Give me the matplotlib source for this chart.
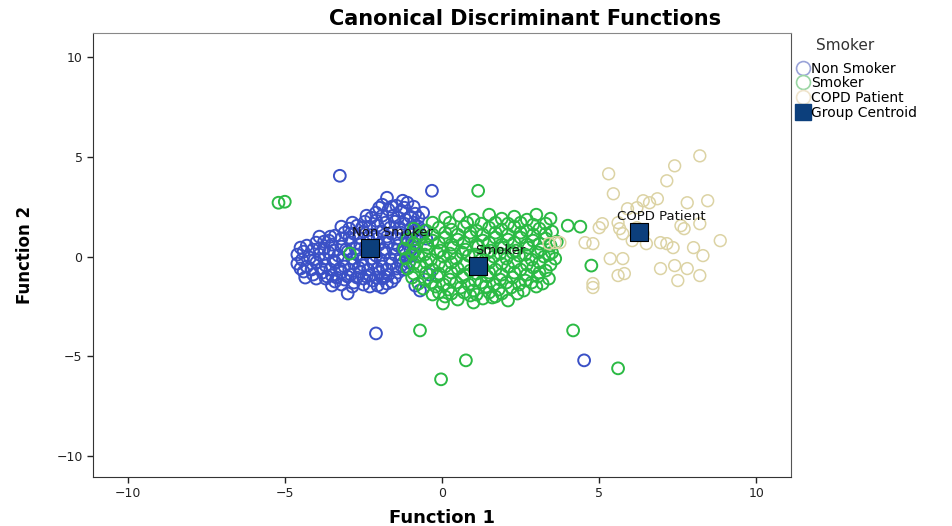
import numpy as np
import matplotlib
matplotlib.use("Agg")
import matplotlib.pyplot as plt
from matplotlib.lines import Line2D

# discriminant scores (Function 1, Function 2)
non_smoker = [
    (-1.75, 2.95), (-1.25, 2.8), (-1.1, 2.7), (-1.9, 2.6), (-1.45, 2.55),
    (-2.0, 2.45), (-1.6, 2.5), (-1.2, 2.45), (-0.9, 2.5),
    (-2.1, 2.2), (-2.4, 2.05), (-1.7, 2.35), (-1.3, 2.3), (-0.85, 2.15), (-0.6, 2.2),
    (-1.0, 2.0), (-1.55, 2.05), (-0.75, 1.95),
    (-2.25, 1.95), (-1.9, 2.05), (-1.4, 1.95), (-1.15, 1.85),
    (-2.7, 1.55), (-2.95, 1.4), (-2.45, 1.75), (-2.1, 1.8), (-1.8, 1.7), (-1.5, 1.75),
    (-1.2, 1.65), (-0.9, 1.7), (-0.75, 1.5), (-2.3, 1.5), (-1.65, 1.45), (-1.0, 1.4),
    (-2.85, 1.7), (-2.55, 1.45), (-2.05, 1.55), (-1.35, 1.45), (-0.85, 1.3), (-3.2, 1.5),
    (-3.6, 0.8), (-3.4, 1.05), (-3.1, 1.2), (-3.75, 0.75), (-2.8, 1.15), (-2.5, 1.25),
    (-2.2, 1.1), (-1.9, 1.25), (-1.6, 1.15), (-1.3, 1.2), (-1.0, 1.1), (-0.8, 1.0),
    (-3.2, 0.9), (-2.65, 0.95),
    (-3.9, 1.0), (-3.55, 1.0), (-2.95, 0.95), (-2.35, 0.95), (-2.05, 0.9), (-1.75, 1.0),
    (-1.45, 0.9), (-1.15, 0.9), (-0.95, 0.8),
    (-4.3, 0.55), (-4.0, 0.7), (-3.9, 0.4), (-3.5, 0.6), (-3.2, 0.5), (-2.9, 0.7),
    (-2.6, 0.6), (-2.3, 0.75), (-2.0, 0.6), (-1.7, 0.7), (-1.4, 0.55), (-1.1, 0.65), (-0.9, 0.5),
    (-4.5, 0.45), (-4.1, 0.35), (-3.75, 0.4), (-3.45, 0.3), (-3.05, 0.35), (-2.75, 0.4),
    (-2.45, 0.35), (-2.15, 0.4), (-1.85, 0.35), (-1.55, 0.4), (-1.25, 0.35), (-1.0, 0.3),
    (-4.6, 0.1), (-4.4, 0.25), (-4.2, -0.05), (-3.9, 0.1), (-3.6, 0.2), (-3.3, 0.05),
    (-3.0, 0.25), (-2.7, 0.1), (-2.4, 0.2), (-2.1, 0.05), (-1.8, 0.2), (-1.5, 0.1),
    (-1.2, 0.25), (-0.95, 0.05),
    (-4.45, -0.15), (-4.05, -0.15), (-3.75, -0.1), (-3.45, -0.2), (-3.15, -0.15),
    (-2.85, -0.1), (-2.55, -0.2), (-2.25, -0.1), (-1.95, -0.15), (-1.65, -0.1),
    (-1.35, -0.2), (-1.1, -0.05),
    (-4.6, -0.35), (-4.3, -0.5), (-4.0, -0.3), (-3.7, -0.45), (-3.4, -0.3), (-3.1, -0.5),
    (-2.8, -0.35), (-2.5, -0.45), (-2.2, -0.3), (-1.9, -0.5), (-1.6, -0.35), (-1.3, -0.45),
    (-1.05, -0.3),
    (-4.5, -0.6), (-4.15, -0.65), (-3.85, -0.6), (-3.55, -0.65), (-3.25, -0.6),
    (-2.95, -0.65), (-2.65, -0.55), (-2.35, -0.65), (-2.05, -0.6), (-1.75, -0.65),
    (-1.45, -0.6), (-1.15, -0.5),
    (-4.4, -0.75), (-4.1, -0.9), (-3.8, -0.8), (-3.5, -0.95), (-3.2, -0.8), (-2.9, -0.9),
    (-2.6, -0.75), (-2.3, -0.95), (-2.0, -0.8), (-1.7, -0.9), (-1.4, -0.8), (-1.2, -0.65),
    (-4.0, -1.1), (-3.65, -1.0), (-3.35, -1.05), (-3.0, -1.0), (-2.7, -1.05), (-2.4, -1.0),
    (-2.1, -1.05), (-1.8, -1.0), (-1.5, -1.05),
    (-3.7, -1.1), (-3.4, -1.25), (-3.1, -1.15), (-2.8, -1.3), (-2.5, -1.1), (-2.2, -1.2),
    (-1.9, -1.1), (-1.6, -1.25), (-2.05, -1.45),
    (-3.5, -1.45), (-3.2, -1.4), (-2.85, -1.5), (-2.5, -1.4), (-2.3, -1.5), (-1.75, -1.35),
    (-3.0, -1.85), (-1.9, -1.55), (-4.35, -1.05), (-0.85, -1.45), (-0.7, -1.7),
    (-0.5, 0.9), (-0.4, -0.9), (-0.6, 1.3),
    (-3.25, 4.05), (-0.32, 3.3), (-2.1, -3.85), (4.52, -5.2),
]

smoker = [
    (0.1, 1.95), (0.55, 2.05), (1.0, 1.85), (1.5, 2.1), (1.9, 1.9), (2.3, 2.0), (2.7, 1.85),
    (3.0, 2.1), (3.45, 1.9), (4.0, 1.55), (4.4, 1.5), (-0.3, 1.7),
    (0.25, 1.7), (0.8, 1.7), (1.25, 1.65), (1.7, 1.7), (2.1, 1.65), (2.5, 1.7), (2.9, 1.6),
    (3.3, 1.65),
    (-0.9, 1.4), (-0.5, 1.3), (-0.1, 1.45), (0.3, 1.35), (0.7, 1.5), (1.1, 1.3), (1.5, 1.45),
    (1.9, 1.35), (2.3, 1.5), (2.7, 1.3), (3.1, 1.4), (3.5, 1.25),
    (-0.7, 1.15), (-0.3, 1.1), (0.1, 1.2), (0.5, 1.1), (0.9, 1.2), (1.3, 1.1), (1.7, 1.2),
    (2.1, 1.1), (2.5, 1.2), (2.9, 1.1), (3.3, 1.15),
    (-1.1, 0.85), (-0.7, 0.95), (-0.3, 0.8), (0.1, 0.95), (0.5, 0.85), (0.9, 1.0), (1.3, 0.8),
    (1.7, 0.95), (2.1, 0.85), (2.5, 0.95), (2.9, 0.8), (3.3, 0.9), (3.65, 0.75),
    (-0.9, 0.65), (-0.5, 0.6), (-0.1, 0.7), (0.3, 0.6), (0.7, 0.7), (1.1, 0.6), (1.5, 0.7),
    (1.9, 0.6), (2.3, 0.7), (2.7, 0.6), (3.1, 0.65), (3.45, 0.55),
    (-1.2, 0.4), (-0.85, 0.3), (-0.45, 0.45), (-0.05, 0.3), (0.35, 0.45), (0.75, 0.35),
    (1.15, 0.5), (1.55, 0.3), (1.95, 0.45), (2.35, 0.3), (2.75, 0.45), (3.15, 0.35), (3.5, 0.2),
    (-0.95, 0.15), (-0.55, 0.1), (-0.15, 0.2), (0.25, 0.15), (0.65, 0.2), (1.05, 0.1),
    (1.45, 0.2), (1.85, 0.15), (2.25, 0.2), (2.65, 0.1), (3.05, 0.2), (3.4, 0.1),
    (-1.15, -0.1), (-0.75, 0.0), (-0.35, -0.15), (0.05, 0.0), (0.45, -0.1), (0.85, 0.05),
    (1.25, -0.15), (1.65, 0.0), (2.05, -0.1), (2.45, 0.05), (2.85, -0.15), (3.25, 0.0), (3.6, -0.1),
    (-0.9, -0.35), (-0.5, -0.3), (-0.1, -0.35), (0.3, -0.3), (0.7, -0.4), (1.5, -0.3),
    (1.9, -0.35), (2.3, -0.3), (2.7, -0.4), (3.1, -0.3), (3.45, -0.4),
    (-1.1, -0.6), (-0.7, -0.5), (-0.3, -0.65), (0.1, -0.5), (0.5, -0.6), (0.9, -0.7),
    (1.3, -0.55), (1.7, -0.65), (2.1, -0.5), (2.5, -0.65), (2.9, -0.55), (3.3, -0.7),
    (-0.9, -0.85), (-0.5, -0.8), (-0.1, -0.85), (0.3, -0.8), (0.7, -0.9), (1.1, -0.85),
    (1.5, -0.8), (1.9, -0.9), (2.3, -0.8), (2.7, -0.9), (3.1, -0.8),
    (-0.95, -1.05), (-0.55, -1.15), (-0.15, -1.0), (0.25, -1.15), (0.65, -1.05), (1.05, -1.2),
    (1.45, -1.0), (1.85, -1.15), (2.25, -1.05), (2.65, -1.2), (3.05, -1.0), (3.4, -1.1),
    (-0.75, -1.35), (-0.35, -1.3), (0.05, -1.4), (0.45, -1.3), (0.85, -1.4), (1.25, -1.3),
    (1.65, -1.4), (2.05, -1.3), (2.45, -1.4), (2.85, -1.3), (3.2, -1.35),
    (-0.6, -1.6), (-0.2, -1.5), (0.2, -1.65), (0.6, -1.55), (1.0, -1.7), (1.4, -1.5),
    (1.8, -1.65), (2.2, -1.55), (2.6, -1.7), (3.0, -1.5),
    (-0.1, -1.8), (0.3, -1.85), (0.7, -1.8), (1.1, -1.9), (1.5, -1.8), (1.9, -1.85), (2.4, -1.85),
    (0.1, -2.0), (0.5, -2.15), (0.9, -1.95), (1.3, -2.1), (1.7, -2.0), (2.1, -2.2), (-0.3, -1.9),
    (0.03, -2.35), (1.0, -2.3), (1.6, -2.05),
    (-5.2, 2.7), (-5.0, 2.75), (1.15, 3.3), (-0.7, -3.7), (0.76, -5.2), (-0.03, -6.15),
    (4.17, -3.7), (5.6, -5.6), (4.75, -0.45), (-2.93, 0.15),
]

copd = [
    (8.2, 5.05), (7.4, 4.55), (5.3, 4.15), (7.15, 3.8), (5.45, 3.15),
    (6.4, 2.8), (6.6, 2.7), (6.85, 2.9), (7.8, 2.7), (8.45, 2.8), (5.9, 2.4), (6.2, 2.45),
    (5.1, 1.65), (5.0, 1.45), (5.6, 1.7), (5.65, 1.4), (5.75, 1.15), (7.6, 1.55), (7.7, 1.4),
    (8.2, 1.65), (4.55, 0.7), (4.8, 0.65), (6.05, 0.8), (6.5, 0.65), (6.95, 0.7), (7.15, 0.65),
    (7.35, 0.45), (8.0, 0.45), (8.3, 0.05), (5.35, -0.1), (5.75, -0.1), (6.95, -0.6),
    (7.4, -0.45), (8.2, -0.95), (5.6, -0.95), (5.8, -0.85), (7.5, -1.2), (4.8, -1.35),
    (4.8, -1.55), (6.4, 1.15), (6.2, 1.45), (3.6, 0.7), (3.75, 0.7), (3.4, 0.65),
    (7.8, -0.6), (8.85, 0.8),
]

group_names = ["Non Smoker", "Smoker", "COPD Patient"]
centroid_x = [-2.29, 1.15, 6.27]
centroid_y = [0.45, -0.45, 1.25]

colors = {"Non Smoker": "#3a50c6", "Smoker": "#2bba44", "COPD Patient": "#dcd3a4"}
centroid_color = "#0c3f7c"

fig = plt.figure(figsize=(9.53, 5.26), dpi=100)
ax = fig.add_axes([0.0976, 0.093, 0.7324, 0.844])

for name, pts in zip(group_names, [non_smoker, smoker, copd]):
    arr = np.array(pts)
    lw = 1.1 if name == "COPD Patient" else 1.4
    ax.scatter(arr[:, 0], arr[:, 1], s=72, facecolors="none",
               edgecolors=colors[name], linewidths=lw, zorder=2)

ax.scatter(centroid_x, centroid_y, marker="s", s=150, color=centroid_color,
           edgecolors="black", linewidths=0.8, zorder=4)
for name, cx, cy in zip(group_names, centroid_x, centroid_y):
    ax.text(cx + 0.72, cy + 0.75, name, ha="center", va="center", fontsize=9.5,
            color="#111111", zorder=5)

ax.set_xlim(-11.1, 11.1)
ax.set_ylim(-11.05, 11.2)
ax.set_xticks([-10, -5, 0, 5, 10])
ax.set_yticks([-10, -5, 0, 5, 10])
ax.tick_params(direction="out", length=4, width=1, labelsize=9, colors="#222222")
ax.spines["left"].set_color("#333333")
ax.spines["bottom"].set_color("#333333")
ax.spines["top"].set_color("#888888")
ax.spines["right"].set_color("#555555")

ax.set_xlabel("Function 1", fontsize=13, fontweight="bold", labelpad=6)
ax.set_ylabel("Function 2", fontsize=12, fontweight="bold", labelpad=16,
              family=["Liberation Sans Narrow", "DejaVu Sans"])

fig.text(0.551, 0.963, "Canonical Discriminant Functions", ha="center", va="center",
         fontsize=15, fontweight="bold")

# legend title sits apart from the entries, as in SPSS output
fig.text(0.887, 0.914, "Smoker", ha="center", va="center", fontsize=11, color="#333333")

handles = [
    Line2D([], [], marker="o", linestyle="none", markersize=10, markerfacecolor="white",
           markeredgecolor="#9aa3d8", markeredgewidth=1.2),
    Line2D([], [], marker="o", linestyle="none", markersize=10, markerfacecolor="white",
           markeredgecolor="#9ad6a4", markeredgewidth=1.2),
    Line2D([], [], marker="o", linestyle="none", markersize=10, markerfacecolor="white",
           markeredgecolor="#efe4cc", markeredgewidth=1.2),
    Line2D([], [], marker="s", linestyle="none", markersize=11, markerfacecolor=centroid_color,
           markeredgecolor=centroid_color),
]
fig.legend(handles, group_names + ["Group Centroid"],
           loc="upper left", bbox_to_anchor=(0.835, 0.883), frameon=False,
           fontsize=10, handletextpad=0.1, labelspacing=0.05,
           handlelength=1.0, borderaxespad=0, borderpad=0)

fig.savefig("out.png", dpi=100)
